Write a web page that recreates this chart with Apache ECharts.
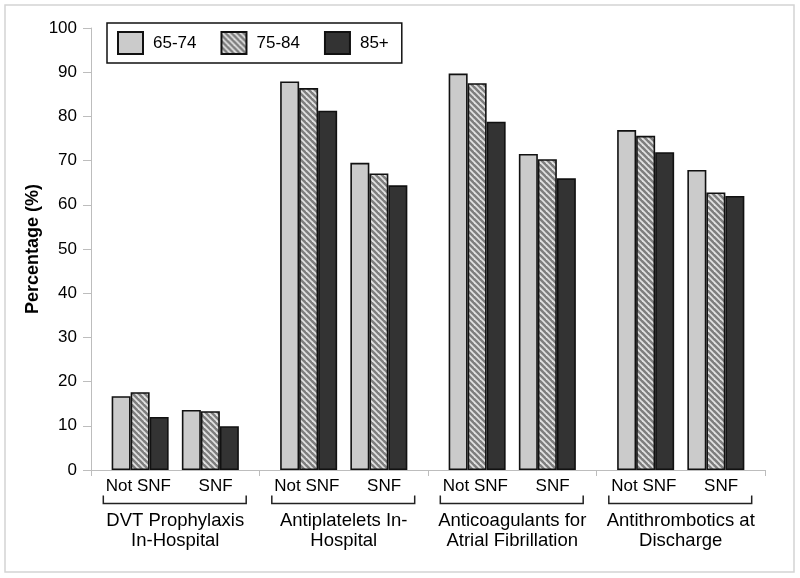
<!DOCTYPE html>
<html>
<head>
<meta charset="utf-8">
<script src="https://cdn.jsdelivr.net/npm/echarts@6/dist/echarts.min.js"></script>
<style>html,body{margin:0;padding:0;background:#fff;}#chart{width:800px;height:578px;}</style>
</head>
<body>
<div id="chart"></div>
<script>
// ---- data ----
const groups = ['DVT Prophylaxis\nIn-Hospital', 'Antiplatelets In-\nHospital', 'Anticoagulants for\nAtrial Fibrillation', 'Antithrombotics at\nDischarge'];
const subgroups = ['Not SNF', 'SNF'];
const ageGroups = ['65-74', '75-84', '85+'];
const yTitle = 'Percentage (%)';
// order: group1 Not SNF, group1 SNF, group2 Not SNF, ...
const age6574 = [16.7, 13.6, 87.9, 69.5, 89.7, 71.5, 76.9, 67.9];
const age7584 = [17.6, 13.3, 86.4, 67.1, 87.5, 70.3, 75.6, 62.8];
const age85   = [12.0, 9.9, 81.3, 64.4, 78.8, 66.0, 71.9, 62.0];
const yMin = 0, yMax = 100, yStep = 10;

// ---- layout helpers (slots within each group on category axes) ----
const BAR_SLOTS = 12, BAR_POS = [3, 8];
const LBL_SLOTS = 48, LBL_POS = [13, 35];
const FONT = 'Liberation Sans, Arial, sans-serif';

const barCats = [], lblCats = [];
groups.forEach((g, gi) => {
  for (let s = 0; s < BAR_SLOTS; s++) barCats.push(gi + '-' + s);
  for (let s = 0; s < LBL_SLOTS; s++) lblCats.push(gi + '-' + s);
});
function slotData(vals) {
  const out = [];
  groups.forEach((g, gi) => {
    for (let s = 0; s < BAR_SLOTS; s++) {
      const k = BAR_POS.indexOf(s);
      out.push(k >= 0 ? vals[gi * 2 + k] : '-');
    }
  });
  return out;
}
function lblFormatter(v, idx) {
  const s = idx % LBL_SLOTS;
  const k = LBL_POS.indexOf(s);
  return k >= 0 ? subgroups[k] : '';
}

function hatch() {
  const c = document.createElement('canvas');
  c.width = 6; c.height = 6;
  const ctx = c.getContext('2d');
  ctx.fillStyle = '#7e7e7e';
  ctx.fillRect(0, 0, 6, 6);
  ctx.strokeStyle = '#e2e2e2';
  ctx.lineWidth = 1.8;
  [-6, 0, 6].forEach(k => {
    ctx.beginPath();
    ctx.moveTo(k - 1, -1);
    ctx.lineTo(k + 7, 7);
    ctx.stroke();
  });
  return c;
}

const fills = ['#cbcbcb', { image: hatch(), repeat: 'repeat' }, '#333333'];
const values = [age6574, age7584, age85];

const chart = echarts.init(document.getElementById('chart'), null, { renderer: 'canvas' });
const axisGrey = '#bdbdbd';
const option = {
  animation: false,
  backgroundColor: '#fff',
  textStyle: { fontFamily: FONT },
  grid: { left: 91, right: 35, top: 28, bottom: 108, containLabel: false },
  legend: {
    left: 107, top: 23,
    orient: 'horizontal',
    padding: [8, 13, 8, 10],
    itemWidth: 25, itemHeight: 22, itemGap: 24,
    borderColor: '#111', borderWidth: 1.5,
    icon: 'rect',
    textStyle: { fontSize: 17, color: '#000', fontFamily: FONT, padding: [0, 0, 0, 5] },
    data: ageGroups
  },
  xAxis: [
    {
      type: 'category', data: barCats, position: 'bottom',
      axisLine: { show: true, lineStyle: { color: axisGrey, width: 1 } },
      axisTick: { show: false }, axisLabel: { show: false }, splitLine: { show: false }
    },
    {
      type: 'category', data: lblCats, position: 'bottom',
      axisLine: { show: false }, axisTick: { show: false }, splitLine: { show: false },
      axisLabel: { interval: 0, formatter: lblFormatter, fontSize: 17, color: '#000', margin: 8, fontFamily: FONT }
    },
    {
      type: 'category', data: groups, position: 'bottom',
      axisLine: { show: false },
      axisTick: { show: true, length: 6, alignWithLabel: false, lineStyle: { color: axisGrey } },
      axisLabel: { interval: 0, fontSize: 18.5, lineHeight: 20, color: '#000', margin: 41, fontFamily: FONT },
      splitLine: { show: false }
    }
  ],
  yAxis: {
    type: 'value', min: yMin, max: yMax, interval: yStep,
    axisLine: { show: true, lineStyle: { color: axisGrey } },
    axisTick: { show: true, length: 8, lineStyle: { color: axisGrey } },
    axisLabel: { fontSize: 17, color: '#000', margin: 14, fontFamily: FONT },
    splitLine: { show: false }
  },
  series: ageGroups.map((name, i) => ({
    name, type: 'bar', xAxisIndex: 0,
    data: slotData(values[i]),
    barWidth: 19, barGap: '0%',
    itemStyle: { color: fills[i], borderColor: '#111', borderWidth: 1.6 }
  }))
};
chart.setOption(option);

// brackets under subgroup labels, y title, frame
function addGraphics() {
  const c0 = chart.convertToPixel({ xAxisIndex: 2 }, 0);
  const c1 = chart.convertToPixel({ xAxisIndex: 2 }, 1);
  const band = c1 - c0;
  const y0 = chart.convertToPixel({ yAxisIndex: 0 }, yMin);
  const yMid = chart.convertToPixel({ yAxisIndex: 0 }, (yMin + yMax) / 2);
  const half = band * 0.424;
  const elements = [{
    type: 'rect', z: -1, silent: true,
    shape: { x: 5, y: 5, width: 789, height: 567 },
    style: { fill: null, stroke: '#d4d4d4', lineWidth: 1.5 }
  }, {
    type: 'text', silent: true,
    x: 33, y: yMid, rotation: Math.PI / 2,
    style: { text: yTitle, font: 'bold 18px ' + FONT, fill: '#000', align: 'center', verticalAlign: 'middle' }
  }];
  groups.forEach((g, gi) => {
    const cx = chart.convertToPixel({ xAxisIndex: 2 }, gi) - 0.5;
    elements.push({
      type: 'polyline', silent: true,
      shape: { points: [[cx - half, y0 + 25.5], [cx - half, y0 + 33.5], [cx + half, y0 + 33.5], [cx + half, y0 + 25.5]] },
      style: { fill: null, stroke: '#222', lineWidth: 1.5 }
    });
  });
  chart.setOption({ graphic: elements });
}
addGraphics();
</script>
</body>
</html>
